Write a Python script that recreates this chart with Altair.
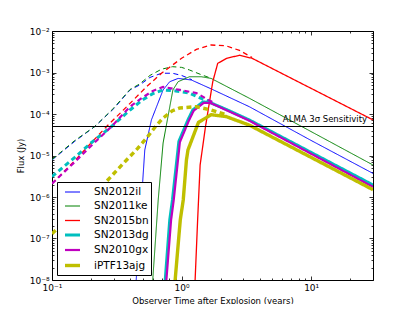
import altair as alt
import pandas as pd

# ---------------- data ----------------
names = ["SN2012il", "SN2011ke", "SN2015bn", "SN2013dg", "SN2010gx", "iPTF13ajg"]
colors = ["#0000ff", "#008000", "#ff0000", "#00bfbf", "#bf00bf", "#bfbf00"]
widths = [1.0, 1.0, 1.3, 3.0, 2.2, 3.4]

# dashed (unabsorbed) curves: time in years, flux in Jy
sn2012il_dash_t = [0.1, 0.15, 0.214, 0.3, 0.4, 0.475, 0.57, 0.7, 0.85, 1.0, 1.2]
sn2012il_dash_f = [7.8e-6, 2.2e-5, 5e-5, 1.35e-4, 3.8e-4, 5e-4, 7.6e-4, 9.6e-4, 9.6e-4, 8.5e-4, 6.7e-4]
sn2011ke_dash_t = [0.1, 0.15, 0.214, 0.3, 0.4, 0.475, 0.57, 0.7, 0.85, 1.0, 1.15, 1.4, 1.7]
sn2011ke_dash_f = [8e-6, 2.3e-5, 5e-5, 1.4e-4, 3.9e-4, 5.3e-4, 8.5e-4, 1.2e-3, 1.38e-3, 1.33e-3, 1.15e-3, 9e-4, 7.2e-4]
sn2015bn_dash_t = [0.1, 0.15, 0.2, 0.264, 0.4, 0.535, 0.7, 1.0, 1.3, 1.69, 2.2, 2.8, 3.5]
sn2015bn_dash_f = [2.1e-6, 7.5e-6, 2e-5, 5e-5, 1.8e-4, 4.5e-4, 9.6e-4, 2.2e-3, 3.6e-3, 4.6e-3, 4.4e-3, 3.4e-3, 2.3e-3]
sn2013dg_dash_t = [0.1, 0.15, 0.2, 0.288, 0.4, 0.5, 0.6, 0.72, 0.9, 1.15, 1.4, 1.8]
sn2013dg_dash_f = [3.1e-6, 9e-6, 2e-5, 5e-5, 1.25e-4, 2.2e-4, 3.1e-4, 3.8e-4, 3.6e-4, 3.2e-4, 2.4e-4, 1.8e-4]
sn2010gx_dash_t = [0.1, 0.15, 0.2, 0.288, 0.4, 0.5, 0.6, 0.72, 0.97, 1.3, 1.8]
sn2010gx_dash_f = [2.1e-6, 7e-6, 1.7e-5, 5e-5, 1.5e-4, 2.5e-4, 3.6e-4, 4.5e-4, 3.8e-4, 3.2e-4, 1.8e-4]
iptf13ajg_dash_t = [0.1, 0.15, 0.2, 0.264, 0.376, 0.46, 0.535, 0.63, 0.72, 0.85, 0.97, 1.3, 1.69, 2.2]
iptf13ajg_dash_f = [1.3e-7, 4.4e-7, 1.05e-6, 2.4e-6, 7.8e-6, 1.5e-5, 2.6e-5, 5e-5, 8e-5, 1.2e-4, 1.4e-4, 1.5e-4, 1.25e-4, 9.6e-5]

# solid (absorbed) curves
sn2012il_t = [0.44, 0.52, 0.585, 0.72, 0.81, 0.94, 1.19, 1.7, 3.33, 10.0, 30.0]
sn2012il_f = [5e-9, 1.36e-5, 7.2e-5, 3.8e-4, 6e-4, 7.2e-4, 6.6e-4, 4e-4, 1.5e-4, 2.3e-5, 3.7e-6]
sn2011ke_t = [0.59, 0.66, 0.72, 0.76, 0.857, 0.94, 1.15, 1.42, 1.69, 3.33, 30.0]
sn2011ke_f = [5e-9, 8.5e-7, 2e-5, 5e-5, 3.8e-4, 6e-4, 7.9e-4, 7.9e-4, 7.2e-4, 2.4e-4, 5.9e-6]
sn2015bn_t = [1.26, 1.33, 1.39, 1.53, 1.74, 1.9, 2.23, 2.8, 3.5, 30.0]
sn2015bn_f = [5e-9, 2.8e-7, 5.9e-6, 5e-5, 6e-4, 1.66e-3, 2.2e-3, 2.6e-3, 2.2e-3, 7.2e-5]
sn2013dg_t = [0.735, 0.81, 0.85, 0.953, 1.12, 1.22, 1.46, 1.65, 2.2, 3.33, 30.0]
sn2013dg_f = [5e-9, 2.8e-7, 8.5e-7, 2.2e-5, 7.2e-5, 1.25e-4, 1.95e-4, 1.9e-4, 1.3e-4, 7.2e-5, 1.95e-6]
sn2010gx_t = [0.75, 0.83, 0.87, 0.97, 1.14, 1.24, 1.48, 1.67, 2.2, 3.33, 30.0]
sn2010gx_f = [5e-9, 2.8e-7, 8.5e-7, 2.1e-5, 7e-5, 1.2e-4, 1.85e-4, 1.85e-4, 1.25e-4, 6.9e-5, 1.75e-6]
iptf13ajg_t = [0.875, 0.977, 1.03, 1.09, 1.12, 1.35, 1.69, 2.2, 3.33, 30.0]
iptf13ajg_f = [5e-9, 2.8e-7, 8.5e-7, 7.8e-6, 1.36e-5, 6.3e-5, 9.6e-5, 8.7e-5, 5.4e-5, 1.5e-6]

alma_level = [5e-5]
alma_x = [0.1, 30.0]
alma_label = "ALMA 3\u03c3 Sensitivity"

x_domain = [0.1, 30.0]
y_domain = [1e-8, 1e-2]
x_major = [0.1, 1.0, 10.0]
x_major_labels = ["10\u207b\u00b9", "10\u2070", "10\u00b9"]
y_major = [1e-8, 1e-7, 1e-6, 1e-5, 1e-4, 1e-3, 1e-2]
y_major_labels = ["10\u207b\u2078", "10\u207b\u2077", "10\u207b\u2076", "10\u207b\u2075",
                  "10\u207b\u2074", "10\u207b\u00b3", "10\u207b\u00b2"]

# ---------------- tables ----------------
dash_series = [
    (sn2012il_dash_t, sn2012il_dash_f), (sn2011ke_dash_t, sn2011ke_dash_f),
    (sn2015bn_dash_t, sn2015bn_dash_f), (sn2013dg_dash_t, sn2013dg_dash_f),
    (sn2010gx_dash_t, sn2010gx_dash_f), (iptf13ajg_dash_t, iptf13ajg_dash_f),
]
solid_series = [
    (sn2012il_t, sn2012il_f), (sn2011ke_t, sn2011ke_f), (sn2015bn_t, sn2015bn_f),
    (sn2013dg_t, sn2013dg_f), (sn2010gx_t, sn2010gx_f), (iptf13ajg_t, iptf13ajg_f),
]

rows = []
for i in range(len(names)):
    for kind, series in (("dashed", dash_series), ("solid", solid_series)):
        ts, fs = series[i]
        for t, f in zip(ts, fs):
            rows.append({"name": names[i], "kind": kind, "t": t, "flux": f})
lines_df = pd.DataFrame(rows)

alma_df = pd.DataFrame({"t": [alma_x[0]], "t2": [alma_x[1]], "flux": alma_level})
label_df = pd.DataFrame({"t": [alma_x[1]], "flux": alma_level, "text": [alma_label]})

x_minor = [k * 10.0 ** d for d in (-1, 0) for k in range(2, 10)] + [20.0, 30.0]
y_minor = [k * 10.0 ** d for d in range(-8, -2) for k in range(2, 10)]

x_scale = alt.Scale(type="log", domain=x_domain, nice=False)
y_scale = alt.Scale(type="log", domain=y_domain, nice=False)


def lab_expr(values, labels):
    vals = ",".join(repr(v) for v in values)
    labs = ",".join("'" + s + "'" for s in labels)
    return f"[{labs}][indexof([{vals}], datum.value)]"


FONT = "DejaVu Sans"

ax_x_main = alt.Axis(orient="bottom", values=x_major, labelExpr=lab_expr(x_major, x_major_labels),
                     tickSize=4, offset=-4, domain=False, grid=False, labelPadding=3,
                     labelFlush=False, labelOverlap=False, labelFontSize=9,
                     title="Observer Time after Explosion (years)", titlePadding=4,
                     titleFontSize=8.5, titleFontWeight="normal")
ax_y_main = alt.Axis(orient="left", values=y_major, labelExpr=lab_expr(y_major, y_major_labels),
                     tickSize=4, offset=-4, domain=False, grid=False, labelPadding=3,
                     labelFlush=False, labelOverlap=False, labelFontSize=9,
                     title="Flux (Jy)", titlePadding=4, titleFontSize=8.5, titleFontWeight="normal")
ax_x_top = alt.Axis(orient="top", values=x_major, labels=False, tickSize=4, offset=-4,
                    domain=False, grid=False, title=None)
ax_y_right = alt.Axis(orient="right", values=y_major, labels=False, tickSize=4, offset=-4,
                      domain=False, grid=False, title=None)
ax_x_minor_b = alt.Axis(orient="bottom", values=x_minor, labels=False, tickSize=2, offset=-2,
                        domain=False, grid=False, title=None)
ax_y_minor_l = alt.Axis(orient="left", values=y_minor, labels=False, tickSize=2, offset=-2,
                        domain=False, grid=False, title=None)
ax_x_minor_t = alt.Axis(orient="top", values=x_minor, labels=False, tickSize=2, offset=-2,
                        domain=False, grid=False, title=None)
ax_y_minor_r = alt.Axis(orient="right", values=y_minor, labels=False, tickSize=2, offset=-2,
                        domain=False, grid=False, title=None)

color_scale = alt.Scale(domain=names, range=colors)
width_scale = alt.Scale(type="ordinal", domain=names, range=widths)
dash_scale = alt.Scale(domain=["solid", "dashed"], range=[[1, 0], [5, 3.5]])

legend = alt.Legend(title=None, orient="none", legendX=5, legendY=151, symbolType="stroke",
                    symbolSize=225, symbolOffset=4, labelFontSize=10.5, labelFont=FONT,
                    labelOffset=12, padding=2, rowPadding=0, strokeColor="black",
                    fillColor="white", cornerRadius=0, labelColor="black")

lines = alt.Chart(lines_df).mark_line(clip=True).encode(
    x=alt.X("t:Q", scale=x_scale, axis=ax_x_main),
    y=alt.Y("flux:Q", scale=y_scale, axis=ax_y_main),
    color=alt.Color("name:N", scale=color_scale, legend=legend),
    strokeWidth=alt.StrokeWidth("name:N", scale=width_scale, legend=legend),
    strokeDash=alt.StrokeDash("kind:N", scale=dash_scale, legend=None),
    order=alt.Order("t:Q"),
)

rule = alt.Chart(alma_df).mark_rule(color="black", strokeWidth=1.2).encode(
    x=alt.X("t:Q", scale=x_scale, axis=ax_x_top),
    x2="t2:Q",
    y=alt.Y("flux:Q", scale=y_scale, axis=ax_y_right),
)

text = alt.Chart(label_df).mark_text(align="right", baseline="bottom", dx=-6, dy=-2,
                                     fontSize=8.5, font=FONT, color="black").encode(
    x=alt.X("t:Q", scale=x_scale, axis=ax_x_minor_b),
    y=alt.Y("flux:Q", scale=y_scale, axis=ax_y_minor_l),
    text="text:N",
)

ghost = alt.Chart(label_df).mark_point(opacity=0).encode(
    x=alt.X("t:Q", scale=x_scale, axis=ax_x_minor_t),
    y=alt.Y("flux:Q", scale=y_scale, axis=ax_y_minor_r),
)

chart = alt.layer(lines, rule, text, ghost).resolve_axis(
    x="independent", y="independent"
).properties(
    width=321, height=249,
    autosize=alt.AutoSizeParams(type="none"),
    padding={"left": 44, "top": 23, "right": 34, "bottom": 24},
    background="white",
).configure_view(
    stroke="black", strokeWidth=1
).configure_axis(
    labelFont=FONT, titleFont=FONT, labelColor="black", titleColor="black",
    tickColor="black", tickWidth=0.8
)

chart.save("out.html", embed_options={"renderer": "svg", "actions": False})
